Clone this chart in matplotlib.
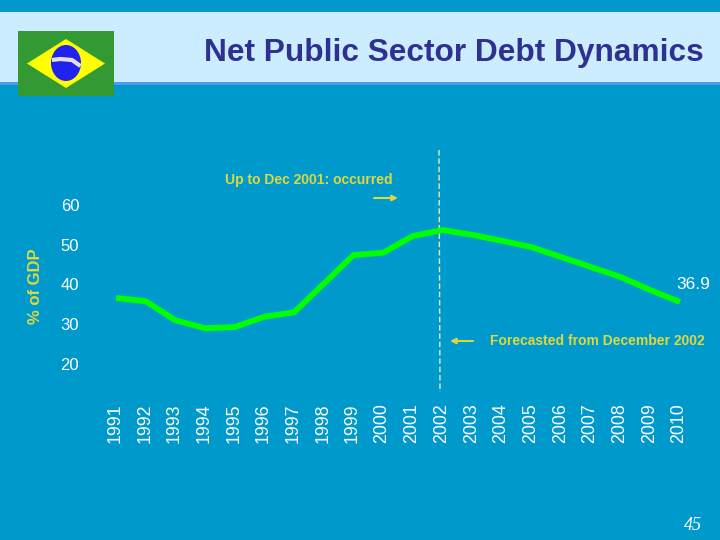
"""Net public sector debt dynamics, Brazil, 1991-2010."""

import matplotlib
matplotlib.use("Agg")
import matplotlib.pyplot as plt
from matplotlib.patches import Ellipse, Polygon, Rectangle
from matplotlib.transforms import ScaledTranslation

plt.rcParams["font.family"] = ["Liberation Sans", "DejaVu Sans"]

years = list(range(1991, 2011))
debt = [36.6, 35.8, 31.0, 29.0, 29.3, 31.9, 33.0, 40.2, 47.4, 48.0,
        52.2, 53.7, 52.5, 51.0, 49.4, 46.9, 44.4, 41.9, 38.6, 35.6]
y_ticks = [20, 30, 40, 50, 60]

BG = "#0099CC"
YELLOW = "#DDD840"
W, H = 720, 540

fig = plt.figure(figsize=(7.2, 5.4), dpi=100, facecolor=BG)

# slide furniture, in pixel coordinates
deco = fig.add_axes([0, 0, 1, 1])
deco.set_xlim(0, W)
deco.set_ylim(H, 0)
deco.axis("off")
deco.add_patch(Rectangle((0, 12), W, 70, fc="#CCECFF", ec="none"))
deco.add_patch(Rectangle((0, 82), W, 3, fc="#5599EE", ec="none"))

# flag
deco.add_patch(Rectangle((18, 31), 96, 65, fc="#339933", ec="none"))
deco.add_patch(Polygon([(27, 63.5), (66, 39), (105, 63.5), (66, 88)], fc="#FFFF00", ec="none"))
deco.add_patch(Ellipse((66, 63), 30, 36, fc="#2222EE", ec="none"))
deco.plot([52, 60, 72, 80.5], [60, 59, 60, 66], color="#E0E0E0", lw=3, solid_capstyle="butt")

deco.text(704, 53, "Net Public Sector Debt Dynamics", color="#2E3192",
          fontsize=22.8, fontweight="bold", ha="right", va="center")
deco.text(308.5, 180, "Up to Dec 2001: occurred", color=YELLOW,
          fontsize=10, fontweight="bold", ha="center", va="center")
deco.text(597, 341, "Forecasted from December 2002", color=YELLOW,
          fontsize=10, fontweight="bold", ha="center", va="center")
deco.annotate("", xy=(398, 198), xytext=(374, 198),
              arrowprops=dict(arrowstyle="-|>", color=YELLOW, lw=1.5, mutation_scale=8,
                              shrinkA=0, shrinkB=0))
deco.annotate("", xy=(450, 341), xytext=(473, 341),
              arrowprops=dict(arrowstyle="-|>", color=YELLOW, lw=1.5, mutation_scale=8,
                              shrinkA=0, shrinkB=0))
deco.plot([439, 440], [150, 392], color="#D8F0C0", lw=1, ls=(0, (4, 2)))
deco.text(35, 286, "% of GDP", color=YELLOW, fontsize=12, rotation=90,
          fontweight="bold", ha="center", va="center")
deco.text(693, 525, "45", color="white", fontsize=13, style="italic",
          family="Liberation Serif", ha="center", va="center")

# chart
L, R, T, B = 100, 700, 150, 400
ax = fig.add_axes([L / W, 1 - B / H, (R - L) / W, (B - T) / H])
ax.patch.set_alpha(0)
ax.set_xlim(1991 + (L - 116) / 29.68, 1991 + (R - 116) / 29.68)
ax.set_ylim(20 + (364 - B) / 3.975, 20 + (364 - T) / 3.975)
ax.plot(years, debt, color="#00FF00", lw=4.2, solid_joinstyle="round",
        solid_capstyle="butt")
ax.text(years[-1] + 1.01, 38.0, "36.9", color="white", fontsize=12.5,
        ha="right", va="bottom")

ax.set_xticks(years)
ax.set_xticklabels(years, rotation=90, color="white", fontsize=12.8)
ax.set_yticks(y_ticks)
ax.set_yticklabels(y_ticks, color="white", fontsize=12)
ax.tick_params(axis="x", length=0, pad=2.5)
ax.tick_params(axis="y", length=0, pad=15)
shift = ScaledTranslation(-1 / 100, 0, fig.dpi_scale_trans)
for lab in ax.get_xticklabels():
    lab.set_transform(lab.get_transform() + shift)
for s in ax.spines.values():
    s.set_visible(False)

fig.savefig("out.png", dpi=100, facecolor=BG)
